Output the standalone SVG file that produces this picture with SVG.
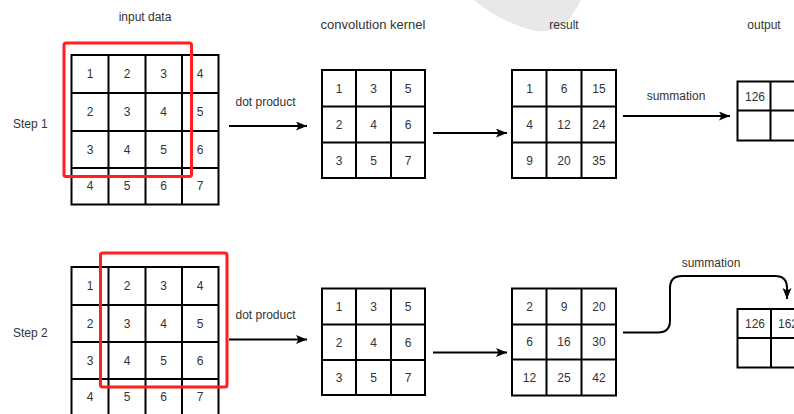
<svg xmlns="http://www.w3.org/2000/svg" width="794" height="414" viewBox="0 0 794 414">
  <style>
    .grid { fill: #ffffff; stroke: #000000; stroke-width: 2; }
    .gl { stroke: #000000; stroke-width: 2; fill: none; }
    .num { font-family: "Liberation Sans", Arial, sans-serif; font-size: 12px; fill: #333333; text-anchor: middle; }
    .lbl { font-family: "Liberation Sans", Arial, sans-serif; font-size: 12px; fill: #333333; text-anchor: middle; }
    .step { font-family: "Liberation Sans", Arial, sans-serif; font-size: 12px; fill: #333333; }
    .win { fill: none; stroke: #ff2020; stroke-width: 3; }
    .edge { fill: none; stroke: #000000; stroke-width: 2; }
  </style>
  <defs>
    <marker id="arrow" markerUnits="userSpaceOnUse" markerWidth="12" markerHeight="10" refX="11" refY="4.5" orient="auto">
      <path d="M0,0 L11,4.5 L0,9 L2.5,4.5 Z" fill="#000000"/>
    </marker>
  </defs>

  <rect width="794" height="414" fill="#ffffff"/>
  <!-- light grey backdrop shape at the top -->
  <path d="M474,0 Q500,22 535,31 Q560,33 570,18 Q577,8 581,0 Z" fill="#e8e8e8"/>

  <!-- column headings -->
  <text class="lbl" x="145" y="21">input data</text>
  <text class="lbl" x="373" y="29" style="font-size:13px">convolution kernel</text>
  <text class="lbl" x="564" y="29">result</text>
  <text class="lbl" x="764" y="29">output</text>

  <text class="step" x="13" y="128">Step 1</text>
  <text class="step" x="13" y="337">Step 2</text>

  <!-- Step 1: input data 4x4 -->
  <g id="input1">
    <rect class="grid" x="71.5" y="55" width="147" height="149.5"/>
    <path class="gl" d="M108.5,55 V204.5 M145.5,55 V204.5 M182,55 V204.5 M71.5,93 H218.5 M71.5,131 H218.5 M71.5,168 H218.5"/>
    <text class="num" x="90" y="78">1</text><text class="num" x="127" y="78">2</text><text class="num" x="163.5" y="78">3</text><text class="num" x="200" y="78">4</text>
    <text class="num" x="90" y="116">2</text><text class="num" x="127" y="116">3</text><text class="num" x="163.5" y="116">4</text><text class="num" x="200" y="116">5</text>
    <text class="num" x="90" y="153.5">3</text><text class="num" x="127" y="153.5">4</text><text class="num" x="163.5" y="153.5">5</text><text class="num" x="200" y="153.5">6</text>
    <text class="num" x="90" y="190">4</text><text class="num" x="127" y="190">5</text><text class="num" x="163.5" y="190">6</text><text class="num" x="200" y="190">7</text>
    <rect class="win" x="64" y="43" width="127.5" height="133.5" rx="2"/>
  </g>

  <!-- Step 1: kernel 3x3 -->
  <g id="kernel1">
    <rect class="grid" x="322" y="70" width="103" height="108"/>
    <path class="gl" d="M356,70 V178 M391,70 V178 M322,106.5 H425 M322,142.5 H425"/>
    <text class="num" x="339" y="92.5">1</text><text class="num" x="373.5" y="92.5">3</text><text class="num" x="408" y="92.5">5</text>
    <text class="num" x="339" y="128.5">2</text><text class="num" x="373.5" y="128.5">4</text><text class="num" x="408" y="128.5">6</text>
    <text class="num" x="339" y="164.5">3</text><text class="num" x="373.5" y="164.5">5</text><text class="num" x="408" y="164.5">7</text>
  </g>

  <!-- Step 1: result 3x3 -->
  <g id="result1">
    <rect class="grid" x="512" y="70" width="104" height="108"/>
    <path class="gl" d="M546.5,70 V178 M581.5,70 V178 M512,106.5 H616 M512,142.5 H616"/>
    <text class="num" x="529.5" y="92.5">1</text><text class="num" x="564" y="92.5">6</text><text class="num" x="599" y="92.5">15</text>
    <text class="num" x="529.5" y="128.5">4</text><text class="num" x="564" y="128.5">12</text><text class="num" x="599" y="128.5">24</text>
    <text class="num" x="529.5" y="164.5">9</text><text class="num" x="564" y="164.5">20</text><text class="num" x="599" y="164.5">35</text>
  </g>

  <!-- Step 1: output 2x2 -->
  <g id="output1">
    <rect class="grid" x="737.5" y="81.5" width="66" height="59"/>
    <path class="gl" d="M770.5,81.5 V140.5 M737.5,110.5 H803.5"/>
    <text class="num" x="755" y="100.5">126</text>
  </g>

  <!-- Step 2: input data 4x4 -->
  <g id="input2">
    <rect class="grid" x="71.5" y="267" width="147" height="150"/>
    <path class="gl" d="M108.5,267 V417 M145.5,267 V417 M182,267 V417 M71.5,305 H218.5 M71.5,342 H218.5 M71.5,379 H218.5"/>
    <text class="num" x="90" y="290">1</text><text class="num" x="127" y="290">2</text><text class="num" x="163.5" y="290">3</text><text class="num" x="200" y="290">4</text>
    <text class="num" x="90" y="327.5">2</text><text class="num" x="127" y="327.5">3</text><text class="num" x="163.5" y="327.5">4</text><text class="num" x="200" y="327.5">5</text>
    <text class="num" x="90" y="364.5">3</text><text class="num" x="127" y="364.5">4</text><text class="num" x="163.5" y="364.5">5</text><text class="num" x="200" y="364.5">6</text>
    <text class="num" x="90" y="401">4</text><text class="num" x="127" y="401">5</text><text class="num" x="163.5" y="401">6</text><text class="num" x="200" y="401">7</text>
    <rect class="win" x="100.5" y="253" width="126.5" height="134" rx="2"/>
  </g>

  <!-- Step 2: kernel 3x3 -->
  <g id="kernel2">
    <rect class="grid" x="322" y="288.5" width="103" height="106.5"/>
    <path class="gl" d="M356,288.5 V395 M391,288.5 V395 M322,324.5 H425 M322,360 H425"/>
    <text class="num" x="339" y="310.5">1</text><text class="num" x="373.5" y="310.5">3</text><text class="num" x="408" y="310.5">5</text>
    <text class="num" x="339" y="346.5">2</text><text class="num" x="373.5" y="346.5">4</text><text class="num" x="408" y="346.5">6</text>
    <text class="num" x="339" y="382">3</text><text class="num" x="373.5" y="382">5</text><text class="num" x="408" y="382">7</text>
  </g>

  <!-- Step 2: result 3x3 -->
  <g id="result2">
    <rect class="grid" x="512" y="288.5" width="104" height="107"/>
    <path class="gl" d="M546.5,288.5 V395.5 M581.5,288.5 V395.5 M512,324.5 H616 M512,359.5 H616"/>
    <text class="num" x="529.5" y="310.5">2</text><text class="num" x="564" y="310.5">9</text><text class="num" x="599" y="310.5">20</text>
    <text class="num" x="529.5" y="346">6</text><text class="num" x="564" y="346">16</text><text class="num" x="599" y="346">30</text>
    <text class="num" x="529.5" y="381.5">12</text><text class="num" x="564" y="381.5">25</text><text class="num" x="599" y="381.5">42</text>
  </g>

  <!-- Step 2: output 2x2 -->
  <g id="output2">
    <rect class="grid" x="737.5" y="309" width="66" height="58.5"/>
    <path class="gl" d="M771,309 V367.5 M737.5,338 H803.5"/>
    <text class="num" x="755" y="327.5">126</text>
    <text class="num" x="788" y="327.5">162</text>
  </g>

  <!-- connectors -->
  <g id="connectors">
    <path class="edge" d="M229,126 H307" marker-end="url(#arrow)"/>
    <text class="lbl" x="265.5" y="106">dot product</text>
    <path class="edge" d="M433,133 H507" marker-end="url(#arrow)"/>
    <path class="edge" d="M623,116 H730" marker-end="url(#arrow)"/>
    <text class="lbl" x="676" y="100">summation</text>

    <path class="edge" d="M229,339.5 H307" marker-end="url(#arrow)"/>
    <text class="lbl" x="265.5" y="319">dot product</text>
    <path class="edge" d="M433,352.5 H507" marker-end="url(#arrow)"/>
    <path class="edge" d="M623,332.5 H658 Q670,332.5 670,320.5 V288 Q670,276 682,276 H775 Q787,276 787,288 V299" marker-end="url(#arrow)"/>
    <text class="lbl" x="711" y="267">summation</text>
  </g>
</svg>
